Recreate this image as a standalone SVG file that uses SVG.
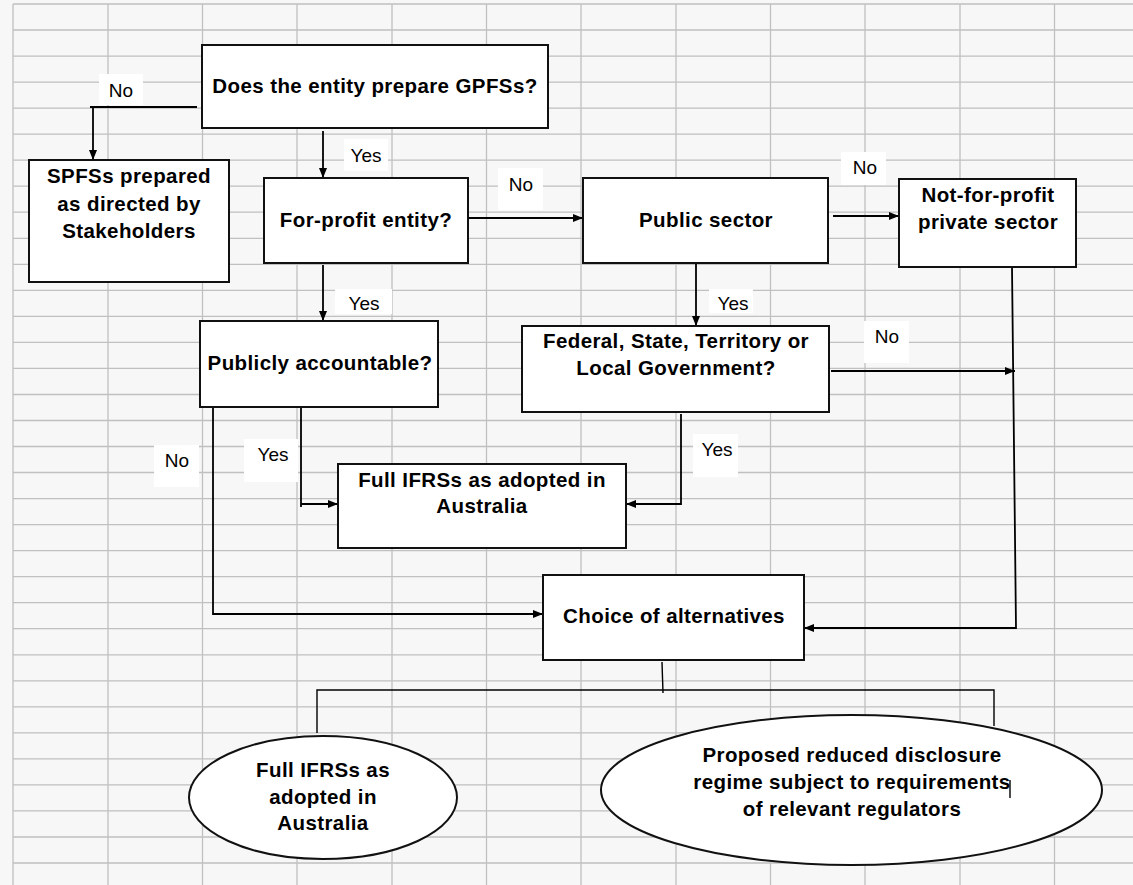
<svg xmlns="http://www.w3.org/2000/svg" width="1133" height="885" viewBox="0 0 1133 885">
<style>
.bg{fill:#f7f7f7}
.grid{stroke:#c0c0c0;stroke-width:1.3;fill:none}
.box{fill:#fff;stroke:#111;stroke-width:2}
.t{font-family:"Liberation Sans",Arial,sans-serif;font-weight:bold;font-size:20.5px;letter-spacing:0.4px;fill:#000;text-anchor:middle}
.lbl{font-family:"Liberation Sans",Arial,sans-serif;font-size:19px;fill:#000;text-anchor:middle}
.lb{fill:#fff}
.c{stroke:#000;stroke-width:1.8;fill:none}
.a{marker-end:url(#arr)}
.thin{stroke:#000;stroke-width:1.4;fill:none}
</style>
<defs>
<marker id="arr" markerUnits="userSpaceOnUse" markerWidth="11" markerHeight="9" refX="10" refY="4" orient="auto">
<path d="M0,0 L10,4 L0,8 z" fill="#000"/>
</marker>
</defs>
<rect class="bg" x="0" y="0" width="1133" height="885"/>
<path class="grid" d="M13,4V885M108,4V885M202.5,4V885M297,4V885M392,4V885M486.5,4V885M581,4V885M676,4V885M770.5,4V885M865,4V885M960,4V885M1054.5,4V885
M13,4H1133M13,30H1133M13,56.1H1133M13,82.1H1133M13,108.1H1133M13,134.2H1133M13,160.2H1133M13,186.2H1133M13,212.2H1133M13,238.3H1133M13,264.3H1133M13,290.3H1133M13,316.4H1133M13,342.4H1133M13,368.4H1133M13,394.5H1133M13,420.5H1133M13,446.5H1133M13,472.5H1133M13,498.6H1133M13,524.6H1133M13,550.6H1133M13,576.7H1133M13,602.7H1133M13,628.7H1133M13,654.8H1133M13,680.8H1133M13,706.8H1133M13,732.8H1133M13,758.9H1133M13,784.9H1133M13,810.9H1133M13,837H1133M13,863H1133"/>

<g id="labels">
<rect class="lb" x="99" y="74" width="44" height="31"/><text class="lbl" x="121" y="97">No</text>
<rect class="lb" x="344" y="139" width="44" height="32"/><text class="lbl" x="366" y="162">Yes</text>
<rect class="lb" x="498" y="168" width="45" height="42"/><text class="lbl" x="521" y="191">No</text>
<rect class="lb" x="841" y="152" width="45" height="33"/><text class="lbl" x="865" y="174">No</text>
<rect class="lb" x="335" y="289" width="57" height="25"/><text class="lbl" x="364" y="310">Yes</text>
<rect class="lb" x="709" y="289" width="44" height="24"/><text class="lbl" x="733" y="310">Yes</text>
<rect class="lb" x="864" y="321" width="45" height="42"/><text class="lbl" x="887" y="343">No</text>
<rect class="lb" x="154" y="445" width="45" height="42"/><text class="lbl" x="177" y="467">No</text>
<rect class="lb" x="244" y="439" width="54" height="43"/><text class="lbl" x="273" y="461">Yes</text>
<rect class="lb" x="693" y="434" width="45" height="43"/><text class="lbl" x="717" y="456">Yes</text>
</g>

<g id="connectors">
<path class="c" d="M197,107H90"/>
<path class="c a" d="M93,108V160"/>
<path class="c a" d="M323,131V178"/>
<path class="c a" d="M468,218H583"/>
<path class="c a" d="M833,216H899"/>
<path class="c a" d="M323,265V321"/>
<path class="c a" d="M696,263V326"/>
<path class="c a" d="M1012,267L1016,628H804"/>
<path class="c a" d="M831,371H1015"/>
<path class="c a" d="M213,405V614H543"/>
<path class="c" d="M301,407V507"/>
<path class="c a" d="M301,504H338"/>
<path class="c a" d="M681,414V504H626"/>
<path class="thin" d="M662,662L663,693"/>
<path class="thin" d="M317,733V690H994V726"/>
</g>

<g id="n-gpfs"><rect class="box" x="202" y="45" width="346" height="83"/><text class="t" x="375" y="93">Does the entity prepare GPFSs?</text></g>
<g id="n-spfs"><rect class="box" x="29" y="160" width="200" height="122"/><text class="t" x="129" y="183">SPFSs prepared</text><text class="t" x="129" y="211">as directed by</text><text class="t" x="129" y="238">Stakeholders</text></g>
<g id="n-forprofit"><rect class="box" x="264" y="178" width="204" height="85"/><text class="t" x="366" y="227">For-profit entity?</text></g>
<g id="n-public"><rect class="box" x="583" y="178" width="245" height="85"/><text class="t" x="706" y="227">Public sector</text></g>
<g id="n-nfp"><rect class="box" x="899" y="179" width="177" height="88"/><text class="t" x="988" y="202">Not-for-profit</text><text class="t" x="988" y="229">private sector</text></g>
<g id="n-publicly"><rect class="box" x="200" y="321" width="238" height="86"/><text class="t" x="320" y="370">Publicly accountable?</text></g>
<g id="n-federal"><rect class="box" x="522" y="326" width="307" height="86"/><text class="t" x="676" y="348">Federal, State, Territory or</text><text class="t" x="676" y="375">Local Government?</text></g>
<g id="n-fullbox"><rect class="box" x="338" y="464" width="288" height="84"/><text class="t" x="482" y="487">Full IFRSs as adopted in</text><text class="t" x="482" y="513">Australia</text></g>
<g id="n-choice"><rect class="box" x="543" y="575" width="261" height="85"/><text class="t" x="674" y="623">Choice of alternatives</text></g>
<g id="n-fullellipse"><ellipse class="box" cx="323" cy="797.5" rx="134" ry="61.5" stroke-width="1.6"/><text class="t" x="323" y="777">Full IFRSs as</text><text class="t" x="323" y="804">adopted in</text><text class="t" x="323" y="830">Australia</text></g>
<g id="n-proposed"><ellipse class="box" cx="851.5" cy="790" rx="250.5" ry="75" stroke-width="1.6"/><text class="t" x="852" y="762">Proposed reduced disclosure</text><text class="t" x="852" y="789">regime subject to requirements</text><text class="t" x="852" y="816">of relevant regulators</text><path class="thin" d="M1010,780V798"/></g>
</svg>
